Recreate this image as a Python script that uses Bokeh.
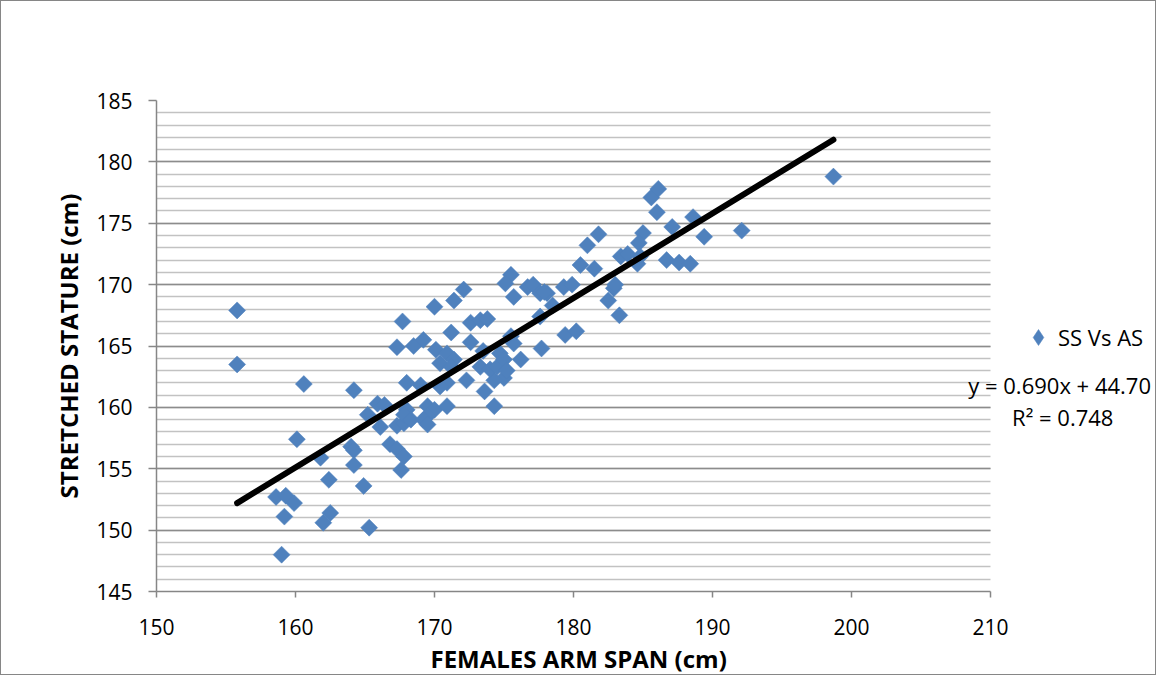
import numpy as np
from bokeh.plotting import figure
from bokeh.models import (FixedTicker, Label, Legend, LegendItem, Range1d,
                          BoxAnnotation, Title)
from bokeh.embed import file_html
from bokeh.resources import INLINE

# ---- data ----
arm_span = [
    155.8, 155.8, 160.6, 160.1, 161.8, 162.4, 158.6, 159.3, 159.9, 159.2,
    162.5, 162.0, 159.0, 164.9, 165.3, 164.2, 164.0, 164.2, 164.2, 165.9,
    166.4, 165.2, 166.1, 167.3, 167.8, 166.8, 167.3, 167.8, 167.6, 168.0,
    169.0, 168.0, 167.8, 168.3, 169.5, 170.0, 169.5, 169.2, 169.5, 170.9,
    167.7, 167.3, 168.5, 169.2, 170.0, 171.4, 172.1, 171.2, 172.6, 173.3,
    173.8, 170.1, 170.9, 171.4, 172.6, 170.4, 171.2, 170.9, 172.3, 173.6,
    174.3, 175.0, 174.3, 173.3, 174.0, 174.5, 174.7, 175.0, 175.2, 175.5,
    175.7, 176.2, 177.7, 175.5, 175.1, 175.7, 176.7, 177.1, 177.6, 178.1,
    177.6, 178.5, 177.9, 179.3, 179.9, 179.4, 180.2, 180.5, 181.0, 181.8,
    181.5, 182.9, 183.0, 182.5, 183.3, 183.4, 183.9, 184.8, 184.6, 185.0,
    184.7, 185.6, 186.1, 186.0, 187.1, 188.6, 189.4, 192.1, 186.7, 187.6,
    188.4, 198.7, 170.4, 173.5,
]
stature = [
    167.9, 163.5, 161.9, 157.4, 155.9, 154.1, 152.7, 152.8, 152.2, 151.1,
    151.4, 150.6, 148.0, 153.6, 150.2, 161.4, 156.8, 156.5, 155.3, 160.3,
    160.2, 159.4, 158.4, 158.5, 158.7, 157.0, 156.6, 156.0, 154.9, 162.0,
    161.8, 159.8, 159.4, 159.0, 160.1, 159.8, 159.3, 159.0, 158.6, 160.1,
    167.0, 164.9, 165.0, 165.5, 168.2, 168.7, 169.6, 166.1, 166.9, 167.1,
    167.2, 164.7, 164.4, 163.9, 165.3, 163.6, 163.3, 162.0, 162.2, 161.3,
    160.1, 162.4, 162.2, 163.3, 163.1, 163.3, 164.4, 163.9, 163.0, 165.8,
    165.2, 163.9, 164.8, 170.8, 170.1, 169.0, 169.8, 170.0, 169.3, 169.3,
    167.4, 168.3, 169.4, 169.8, 170.0, 165.9, 166.2, 171.6, 173.2, 174.1,
    171.3, 169.7, 170.0, 168.7, 167.5, 172.3, 172.5, 172.3, 171.7, 174.2,
    173.4, 177.1, 177.8, 175.9, 174.7, 175.5, 173.9, 174.4, 172.0, 171.8,
    171.7, 178.8, 161.7, 164.6,
]
series_name = "SS Vs AS"
trend_slope = 0.690
trend_intercept = 44.70
equation_text = "y = 0.690x + 44.70"
r2_text = "R\u00b2 = 0.748"
x_ticks = [150, 160, 170, 180, 190, 200, 210]
y_ticks = [145, 150, 155, 160, 165, 170, 175, 180, 185]
y_minor = list(range(145, 186))
x_title = "FEMALES ARM SPAN (cm)"
y_title = "STRETCHED STATURE (cm)"

FONT = "Open Sans"
BLUE = "#4F81BD"
AXIS_GRAY = "#868686"

W, H = 1156, 675
LEFT, TOP, BOTTOM = 155, 99, 84
PX_PER_X = 13.9
x_end = 150 + (W - LEFT) / PX_PER_X   # frame runs to the right edge; plot area stops at 210

p = figure(width=W, height=H,
           x_range=Range1d(150, x_end), y_range=Range1d(145, 185),
           output_backend="svg", toolbar_location=None,
           min_border_left=LEFT, min_border_right=0,
           min_border_top=TOP, min_border_bottom=BOTTOM)
p.styles = {"border": "1px solid #868686"}
p.outline_line_color = None
p.background_fill_color = "white"
p.border_fill_color = "white"

# grid
p.xgrid.grid_line_color = None
yg = p.ygrid[0]
yg.ticker = FixedTicker(ticks=y_ticks, minor_ticks=y_minor)
yg.grid_line_color = "#8c8c8c"
yg.grid_line_width = 1.5
yg.minor_grid_line_color = "#c2c2c2"
yg.minor_grid_line_width = 1.5
if "cross_bounds" in yg.properties():
    yg.cross_bounds = (150, 210)
else:
    p.add_layout(BoxAnnotation(left=210, fill_color="white", fill_alpha=1,
                               line_color=None, level="underlay"))

# axes
p.xaxis.ticker = FixedTicker(ticks=x_ticks)
p.yaxis.ticker = FixedTicker(ticks=y_ticks)
p.xaxis.bounds = (150, 210)
for ax in (p.xaxis[0], p.yaxis[0]):
    ax.axis_line_color = AXIS_GRAY
    ax.axis_line_width = 1.5
    ax.major_tick_line_color = AXIS_GRAY
    ax.major_tick_line_width = 1.5
    ax.major_tick_in = 0
    ax.minor_tick_line_color = None
    ax.major_label_text_font = FONT
    ax.major_label_text_font_size = "21px"
    ax.major_label_text_color = "black"
    ax.axis_label_text_font = FONT
    ax.axis_label_text_font_style = "bold"
    ax.axis_label_text_font_size = "24px"
    ax.axis_label_text_color = "black"
p.xaxis.major_tick_out = 6
p.yaxis.major_tick_out = 8
p.xaxis.major_label_standoff = 21
p.yaxis.major_label_standoff = 16
p.yaxis.axis_label = y_title
p.yaxis.axis_label_standoff = 8

# x-axis title, centred under the 150-210 plot area
p.add_layout(Title(text=x_title, align="left", offset=274, standoff=4,
                   text_font=FONT, text_font_style="bold",
                   text_font_size="24px", text_color="black"), "below")

# scatter points (diamonds)
r = p.scatter(arm_span, stature, marker="square", size=12, angle=np.pi / 4,
              fill_color=BLUE, line_color=BLUE, line_width=0.5)

# trend line
tx = [min(arm_span), max(arm_span)]
ty = [trend_slope * v + trend_intercept for v in tx]
p.line(tx, ty, line_color="black", line_width=6, line_cap="round")

# legend (proxy renderer with diamond marker for the legend swatch)
proxy = p.scatter(x=[np.nan], y=[np.nan], marker="diamond", fill_color=BLUE,
                  line_color=BLUE, line_width=0.5)
legend = Legend(items=[LegendItem(label=series_name, renderers=[proxy])],
                location=(862, 234), padding=0, margin=0, spacing=0,
                glyph_width=40, glyph_height=40, label_standoff=0,
                border_line_color=None, background_fill_alpha=0,
                label_text_font=FONT, label_text_font_size="22px",
                label_text_color="black")
p.add_layout(legend, "center")

# trendline equation
p.add_layout(Label(x=208.4, y=161.8, text=equation_text, text_align="left",
                   text_baseline="middle", text_font=FONT,
                   text_font_size="22px", text_color="black"))
p.add_layout(Label(x=215.2, y=159.2, text=r2_text, text_align="center",
                   text_baseline="middle", text_font=FONT,
                   text_font_size="22px", text_color="black"))

open("out.html", "w").write(file_html(p, INLINE))
